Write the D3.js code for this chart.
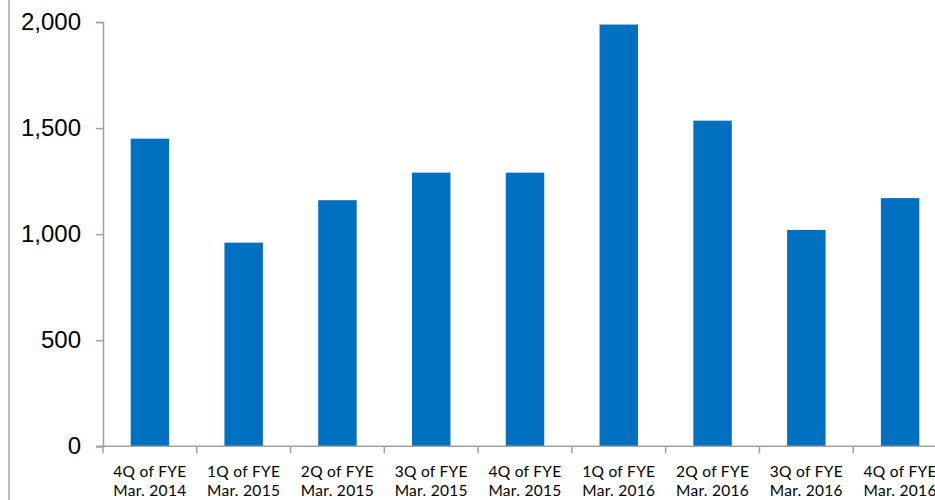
<!DOCTYPE html>
<html>
<head>
<meta charset="utf-8">
<script src="https://cdn.jsdelivr.net/npm/d3@7"></script>
<style>
  body { margin: 0; background: #fff; }
  svg { display: block; }
</style>
</head>
<body>
<div id="chart"></div>
<script>
// Quarter labels (two lines each)
const quarters = ["4Q of FYE", "1Q of FYE", "2Q of FYE", "3Q of FYE", "4Q of FYE", "1Q of FYE", "2Q of FYE", "3Q of FYE", "4Q of FYE"];
const years = ["Mar. 2014", "Mar. 2015", "Mar. 2015", "Mar. 2015", "Mar. 2015", "Mar. 2016", "Mar. 2016", "Mar. 2016", "Mar. 2016"];
const values = [1450, 960, 1160, 1290, 1290, 1988, 1535, 1020, 1170];
const yTicks = [0, 500, 1000, 1500, 2000];

const W = 935, H = 500;
// plot area runs past the right edge, like the original
var margin = {top: 22, left: 103, bottom: 54},
    plotRight = 947;

var svg = d3.select("#chart")
  .append("svg")
    .attr("width", W)
    .attr("height", H);

// left border line
svg.append("line")
  .attr("x1", 9).attr("x2", 9)
  .attr("y1", 0).attr("y2", H)
  .attr("stroke", "#a6a6a6")
  .attr("stroke-width", 1.5);

var idx = values.map((d, i) => i);

var x = d3.scaleBand()
  .domain(idx)
  .range([margin.left, plotRight])
  .padding(0);

var y = d3.scaleLinear()
  .domain([0, 2000])
  .range([H - margin.bottom + 0.3, margin.top]);

var barW = x.bandwidth() * 0.41;

// bars
svg.selectAll(".bar")
  .data(values)
  .enter()
  .append("rect")
    .attr("class", "bar")
    .attr("x", (d, i) => x(i) + (x.bandwidth() - barW) / 2)
    .attr("y", d => y(d))
    .attr("width", barW)
    .attr("height", d => y(0) - y(d))
    .attr("fill", "#0070c0");

// Y axis
var yAxis = svg.append("g")
  .attr("transform", "translate(" + margin.left + ",0)")
  .call(d3.axisLeft(y).tickValues(yTicks).tickSize(7).tickPadding(15)
    .tickFormat(d3.format(",")));
yAxis.select(".domain").attr("stroke", "#a0a0a0").attr("stroke-width", 1.5);
yAxis.selectAll(".tick line").attr("stroke", "#a0a0a0").attr("stroke-width", 1.5);
yAxis.selectAll(".tick text")
  .attr("font-family", "Liberation Sans, Arial, sans-serif")
  .attr("font-size", "24px")
  .attr("fill", "#000");

// X axis line + ticks at band boundaries
var baseY = y(0);
svg.append("line")
  .attr("x1", margin.left - 7).attr("x2", plotRight)
  .attr("y1", baseY).attr("y2", baseY)
  .attr("stroke", "#a0a0a0")
  .attr("stroke-width", 1.5);

svg.selectAll(".xtick")
  .data(idx.concat([values.length]))
  .enter()
  .append("line")
    .attr("class", "xtick")
    .attr("x1", i => margin.left + i * x.step())
    .attr("x2", i => margin.left + i * x.step())
    .attr("y1", baseY)
    .attr("y2", baseY + 7)
    .attr("stroke", "#a0a0a0")
    .attr("stroke-width", 1.5);

// category labels
var lbl = svg.selectAll(".xlabel")
  .data(idx)
  .enter()
  .append("text")
    .attr("class", "xlabel")
    .attr("x", i => x(i) + x.bandwidth() / 2)
    .attr("y", 477)
    .attr("text-anchor", "middle")
    .attr("font-family", "Lato, Carlito, sans-serif")
    .attr("font-size", "15.5px")
    .attr("letter-spacing", "0.3px")
    .attr("fill", "#000");
lbl.append("tspan")
  .attr("x", i => x(i) + x.bandwidth() / 2)
  .text(i => quarters[i]);
lbl.append("tspan")
  .attr("x", i => x(i) + x.bandwidth() / 2)
  .attr("dy", 19)
  .text(i => years[i]);
</script>
</body>
</html>
